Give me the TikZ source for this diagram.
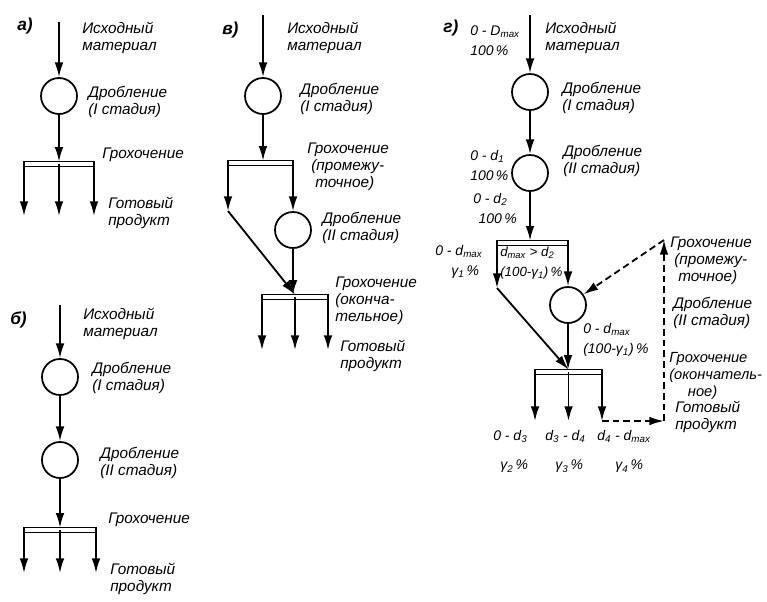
\documentclass[tikz,border=0pt]{standalone}
\usepackage{fontspec}
\setmainfont{Liberation Sans}
\usetikzlibrary{arrows.meta}
\begin{document}
\begin{tikzpicture}[x=0.75pt,y=-0.75pt,
  every node/.style={inner sep=0pt},
  crusher/.style={circle,draw,line width=1.3pt,minimum size=27pt},
  screenbar/.style={rectangle,draw,line width=1.1pt,fill=white,minimum height=3.5pt,outer sep=0pt},
  arr/.style={line width=1.35pt,-{Latex[length=11pt,width=6.5pt]}},
  darr/.style={arr,dash pattern=on 5pt off 3pt},
  lbl/.style={anchor=north west,align=left,font=\fontsize{11.5}{12.75}\selectfont\itshape},
  glbl/.style={anchor=north west,align=left,font=\fontsize{10.5}{15}\selectfont\itshape},
  tag/.style={anchor=north west,font=\fontsize{13}{14}\selectfont\bfseries\itshape}
]
\useasboundingbox (0,0) rectangle (767,601);

% ---------- panel a ----------
\node[tag] (ta) at (17,18) {а)};
\coordinate (a0) at (59,22);
\node[crusher] (a1) at (59,96) {};
\node[screenbar,minimum width=52.5pt] (a2) at (59,164) {};
\coordinate (a3l) at (24,216);
\coordinate (a3c) at (59,216);
\coordinate (a3r) at (94,216);
\draw[arr] (a0) -- (a1);
\draw[arr] (a1) -- (a2.north);
\draw[arr] (a2.west) -- (a3l);
\draw[arr] (a2.center) -- (a3c);
\draw[arr] (a2.east) -- (a3r);
\node[lbl] (la1) at (82,22) {Исходный\\материал};
\node[lbl] (la2) at (88,86) {Дробление\\(I стадия)};
\node[lbl] (la3) at (102,148) {Грохочение};
\node[lbl] (la4) at (108,197) {Готовый\\продукт};

% ---------- panel b ----------
\node[tag] (tb) at (10,312) {б)};
\coordinate (b0) at (60,305);
\node[crusher] (b1) at (60,377) {};
\node[crusher] (b2) at (60,460) {};
\node[screenbar,minimum width=54pt] (b3) at (60,530) {};
\coordinate (b4l) at (24,573);
\coordinate (b4c) at (60,573);
\coordinate (b4r) at (96,573);
\draw[arr] (b0) -- (b1);
\draw[arr] (b1) -- (b2);
\draw[arr] (b2) -- (b3.north);
\draw[arr] (b3.west) -- (b4l);
\draw[arr] (b3.center) -- (b4c);
\draw[arr] (b3.east) -- (b4r);
\node[lbl] (lb1) at (83,308) {Исходный\\материал};
\node[lbl] (lb2) at (92,362) {Дробление\\(I стадия)};
\node[lbl] (lb3) at (100,447) {Дробление\\(II стадия)};
\node[lbl] (lb4) at (108,513) {Грохочение};
\node[lbl] (lb5) at (110,563) {Готовый\\продукт};

% ---------- panel v ----------
\node[tag] (tv) at (222,22) {в)};
\coordinate (v0) at (263,15);
\node[crusher] (v1) at (263,96) {};
\node[screenbar,minimum width=48.75pt] (v2) at (260.5,163) {};
\coordinate (vl) at (228,211);
\node[crusher] (v3) at (293,230) {};
\node[screenbar,minimum width=49.5pt] (v4) at (295,297) {};
\coordinate (v5l) at (262,350);
\coordinate (v5c) at (295,350);
\coordinate (v5r) at (328,350);
\draw[arr] (v0) -- (v1);
\draw[arr] (v1) -- (v1 |- v2.north);
\draw[arr] (v2.west) -- (vl);
\draw[arr] (v2.east) -- (v3);
\draw[arr] (vl) -- (v4.north);
\draw[arr] (v3) -- (v3 |- v4.north);
\draw[arr] (v4.west) -- (v5l);
\draw[arr] (v4.center) -- (v5c);
\draw[arr] (v4.east) -- (v5r);
\node[lbl] (lv1) at (287,22) {Исходный\\материал};
\node[lbl] (lv2) at (300,83) {Дробление\\(I стадия)};
\node[lbl] (lv3) at (307,143) {Грохочение\\\hspace*{3pt}(промежу-\\\hspace*{6pt}точное)};
\node[lbl] (lv4) at (322,212) {Дробление\\(II стадия)};
\node[lbl] (lv5) at (335,277) {Грохочение\\(оконча-\\тельное)};
\node[lbl] (lv6) at (340,340) {Готовый\\продукт};

% ---------- panel g ----------
\node[tag] (tg) at (443,20) {г)};
\coordinate (g0) at (530,15);
\node[crusher] (g1) at (530,92) {};
\node[crusher] (g2) at (530,173) {};
\node[screenbar,minimum width=53.25pt] (g3) at (532.5,243) {};
\coordinate (gl) at (497,288);
\node[crusher] (g4) at (568,305) {};
\node[screenbar,minimum width=50.25pt] (g5) at (568.5,372) {};
\coordinate (g6l) at (535,421);
\coordinate (g6c) at (568.5,421);
\coordinate (g6r) at (602,421);
\coordinate (gd1) at (664,421);
\coordinate (gd2) at (664,240);
\draw[arr] (g0) -- (g1);
\draw[arr] (g1) -- (g2);
\draw[arr] (g2) -- (g2 |- g3.north);
\draw[arr] (g3.west) -- (gl);
\draw[arr] (g3.east) -- (g4);
\draw[arr] (gl) -- (g5.north);
\draw[arr] (g4) -- (g4 |- g5.north);
\draw[arr] (g5.west) -- (g6l);
\draw[arr] (g5.center) -- (g6c);
\draw[arr] (g5.east) -- (g6r);
\draw[darr] (g6r) -- (gd1);
\draw[darr] (gd1) -- (gd2);
\draw[darr] (gd2) -- (g4);

\node[glbl] (lg1) at (470,25) {0 - D\textsubscript{max}\\100\,\%};
\node[lbl] (lg2) at (545,22) {Исходный\\материал};
\node[lbl] (lg3) at (562,82) {Дробление\\(I стадия)};
\node[glbl] (lg4) at (470,150) {0 - d\textsubscript{1}\\100\,\%};
\node[lbl] (lg5) at (563,145) {Дробление\\(II стадия)};
\node[glbl] (lg6) at (473,193) {0 - d\textsubscript{2}\\\hspace*{4pt}100\,\%};
\node[glbl] (lg7) at (435,245) {0 - d\textsubscript{max}\\\hspace*{12pt}γ\textsubscript{1}\,\%};
\node[glbl,font=\fontsize{10}{15}\selectfont\itshape] (lg8) at (500,247) {d\textsubscript{max} > d\textsubscript{2}\\(100-γ\textsubscript{1})\,\%};
\node[glbl] (lg9) at (583,323) {0 - d\textsubscript{max}\\(100-γ\textsubscript{1})\,\%};
\node[lbl] (lg10) at (670,237) {Грохочение\\\hspace*{3pt}(промежу-\\\hspace*{6pt}точное)};
\node[lbl] (lg11) at (673,297) {Дробление\\(II стадия)};
\node[lbl,font=\fontsize{11}{12.75}\selectfont\itshape] (lg12) at (669,352) {Грохочение\\(окончатель-\\\hspace*{14pt}ное)};
\node[lbl] (lg13) at (675,401) {Готовый\\продукт};
\node[glbl] (lg14) at (493,430) {0 - d\textsubscript{3}};
\node[glbl] (lg15) at (500,460) {γ\textsubscript{2}\,\%};
\node[glbl] (lg16) at (545,430) {d\textsubscript{3} - d\textsubscript{4}};
\node[glbl] (lg17) at (555,460) {γ\textsubscript{3}\,\%};
\node[glbl] (lg18) at (597,430) {d\textsubscript{4} - d\textsubscript{max}};
\node[glbl] (lg19) at (615,460) {γ\textsubscript{4}\,\%};
\end{tikzpicture}
\end{document}
